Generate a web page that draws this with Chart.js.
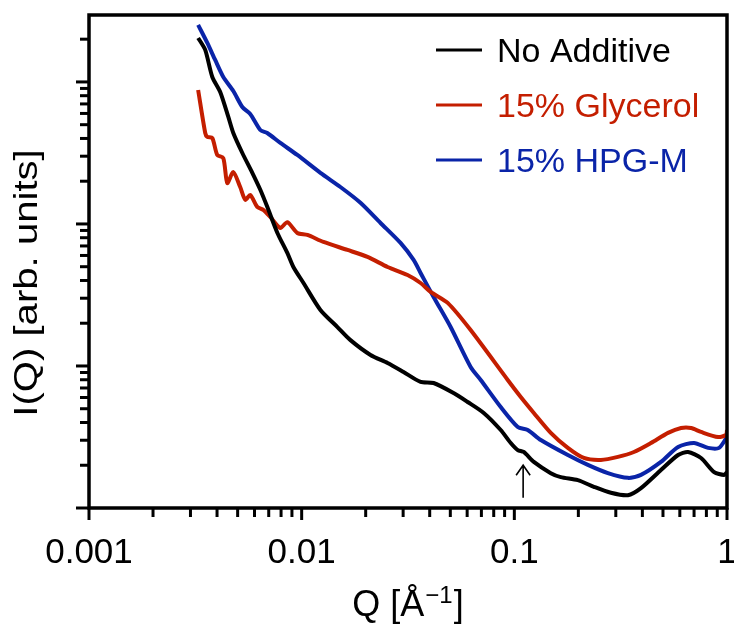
<!DOCTYPE html>
<html>
<head>
<meta charset="utf-8">
<script src="https://cdn.jsdelivr.net/npm/chart.js@4.4.0/dist/chart.umd.min.js"></script>
<style>
html, body { margin: 0; padding: 0; background: #fff; }
</style>
</head>
<body>
<canvas id="grafica" width="734" height="626"></canvas>
<script>
// Datos (Q en 1/Å, I en unidades arbitrarias)
const seriesLabels = ['No Additive', '15% Glycerol', '15% HPG-M'];
const seriesColors = ['#000000', '#c41e00', '#0a24a8'];

const noAddQ = [0.00326, 0.00352, 0.0038, 0.00414, 0.00452, 0.00477, 0.00526, 0.00586, 0.00639, 0.00689,
    0.00769, 0.00856, 0.00914, 0.0102, 0.01225, 0.01473, 0.01696, 0.02107, 0.02534, 0.03013,
    0.03624, 0.04172, 0.0518, 0.0603, 0.0718, 0.0863, 0.0962, 0.1038, 0.1107, 0.1235,
    0.1484, 0.1654, 0.1989, 0.2366, 0.2845, 0.342, 0.394, 0.489, 0.589, 0.656,
    0.755, 0.87, 0.969, 1.0];
const noAddI = [2041, 1680, 1084, 850, 567, 437, 316, 229, 174, 132,
    86.4, 62.5, 49.8, 38.4, 24.8, 18.8, 15.2, 11.96, 10.5, 9.07,
    7.72, 7.59, 6.45, 5.58, 4.67, 3.54, 2.87, 2.56, 2.48, 2.11,
    1.76, 1.65, 1.57, 1.41, 1.28, 1.23, 1.38, 1.85, 2.36, 2.48,
    2.25, 1.79, 1.71, 1.79];

const glyQ = [0.00326, 0.00352, 0.0036, 0.0038, 0.00401, 0.00428, 0.00447, 0.00477, 0.00514, 0.00543,
    0.00573, 0.00618, 0.0066, 0.00712, 0.00794, 0.00856, 0.00954, 0.01064, 0.01266, 0.01642,
    0.0204, 0.02534, 0.03147, 0.03624, 0.0404, 0.0486, 0.0623, 0.0931, 0.1072, 0.1235,
    0.1484, 0.1785, 0.2123, 0.2553, 0.307, 0.365, 0.439, 0.528, 0.608, 0.678,
    0.755, 0.908, 0.99, 1.0];
const glyI = [878, 437, 410, 403, 306, 291, 194, 232, 182, 148,
    160, 132, 125.5, 112, 93.7, 103, 86.4, 83.7, 74.7, 65.6,
    58.6, 49.8, 43.7, 38.4, 33.2, 27.8, 17.9, 7.97, 6.05, 4.67,
    3.38, 2.65, 2.25, 2.18, 2.29, 2.48, 2.87, 3.38, 3.66, 3.66,
    3.43, 3.16, 3.27, 3.54];

const hpgQ = [0.00326, 0.0036, 0.00392, 0.00428, 0.00477, 0.00526, 0.00573, 0.00639, 0.00689, 0.00794,
    0.00954, 0.01225, 0.01521, 0.0189, 0.02349, 0.02917, 0.0336, 0.03624, 0.04172, 0.05017,
    0.0623, 0.0695, 0.0863, 0.1038, 0.1156, 0.1332, 0.1785, 0.2217, 0.2754, 0.342,
    0.394, 0.489, 0.589, 0.7, 0.815, 0.918, 1.0];
const hpgI = [2520, 1882, 1428, 1084, 864, 666, 595, 459, 437, 372,
    306, 229, 182, 141, 101.6, 73.5, 55.8, 45.2, 30.6, 18.8,
    9.84, 7.97, 5.14, 3.72, 3.54, 3.01, 2.36, 2.01, 1.76, 1.63,
    1.71, 2.11, 2.69, 2.87, 2.65, 2.65, 3.16];

// Ejes
const xTickValues = [0.001, 0.01, 0.1, 1];
const xTickLabels = ['0.001', '0.01', '0.1', '1'];
const yMin = 1, yMax = 2960;
const xTitle = 'Q [Å';
const yTitle = 'I(Q) [arb. units]';

// Flecha (Q y rango de I)
const arrowQ = 0.11;
const arrowI = [1.18, 2.0];

function toPoints(qs, is) {
    return qs.map((q, i) => ({ x: q, y: is[i] }));
}

const datasets = [
    { label: seriesLabels[0], data: toPoints(noAddQ, noAddI), borderColor: seriesColors[0] },
    { label: seriesLabels[1], data: toPoints(glyQ, glyI), borderColor: seriesColors[1] },
    { label: seriesLabels[2], data: toPoints(hpgQ, hpgI), borderColor: seriesColors[2] }
];

const FONT = '"Liberation Sans", Arial, Helvetica, sans-serif';

const decor = {
    id: 'decor',
    afterDraw(chart) {
        const ctx = chart.ctx;
        const a = chart.chartArea;
        const xs = chart.scales.x;
        const ys = chart.scales.y;
        ctx.save();
        ctx.strokeStyle = '#000';
        ctx.fillStyle = '#000';
        ctx.lineCap = 'butt';

        // marcas del eje y
        ctx.lineWidth = 3;
        for (let d = 0; d <= 3; d++) {
            for (let m = 1; m <= 9; m++) {
                const v = m * Math.pow(10, d);
                if (v > yMax) continue;
                const py = ys.getPixelForValue(v);
                const len = m === 1 ? 13 : 9;
                ctx.beginPath();
                ctx.moveTo(a.left, py);
                ctx.lineTo(a.left - len, py);
                ctx.stroke();
            }
        }
        // marcas del eje x
        for (let d = -3; d <= 0; d++) {
            for (let m = 1; m <= 9; m++) {
                const v = m * Math.pow(10, d);
                if (v > 1.0001) continue;
                const px = xs.getPixelForValue(v);
                const len = m === 1 ? 12 : 9;
                ctx.beginPath();
                ctx.moveTo(px, a.bottom);
                ctx.lineTo(px, a.bottom + len);
                ctx.stroke();
            }
        }

        // marco
        ctx.lineWidth = 3.5;
        ctx.strokeRect(a.left, a.top, a.right - a.left, a.bottom - a.top);

        // etiquetas eje x
        ctx.font = '35px ' + FONT;
        ctx.textAlign = 'center';
        ctx.textBaseline = 'alphabetic';
        xTickValues.forEach((v, i) => {
            ctx.fillText(xTickLabels[i], xs.getPixelForValue(v), 563);
        });

        // título eje x: Q [Å^-1]
        const big = '36px ' + FONT, small = '24px ' + FONT;
        ctx.font = big;
        const w1 = ctx.measureText(xTitle).width;
        const w3 = ctx.measureText(']').width;
        ctx.font = small;
        const w2 = ctx.measureText('\u22121').width + 2;
        let x0 = (a.left + a.right) / 2 - (w1 + w2 + w3) / 2;
        ctx.textAlign = 'left';
        ctx.font = big;
        ctx.fillText(xTitle, x0, 616);
        ctx.font = small;
        ctx.fillText('\u22121', x0 + w1 + 1, 603);
        ctx.font = big;
        ctx.fillText(']', x0 + w1 + w2, 616);

        // título eje y
        ctx.save();
        ctx.translate(28, 283);
        ctx.rotate(-Math.PI / 2);
        ctx.scale(1.18, 1);
        ctx.font = '34px ' + FONT;
        ctx.textAlign = 'center';
        ctx.textBaseline = 'middle';
        ctx.fillText(yTitle, 0, 0);
        ctx.restore();

        // leyenda
        const rows = [50, 105, 160];
        ctx.font = '34px ' + FONT;
        ctx.textAlign = 'left';
        ctx.lineWidth = 3;
        seriesLabels.forEach((lab, i) => {
            ctx.strokeStyle = seriesColors[i];
            ctx.fillStyle = seriesColors[i];
            ctx.beginPath();
            ctx.moveTo(436, rows[i]);
            ctx.lineTo(482, rows[i]);
            ctx.stroke();
            ctx.fillText(lab, 497, rows[i] + 12);
        });

        // flecha
        const ax = xs.getPixelForValue(arrowQ);
        const y0 = ys.getPixelForValue(arrowI[0]);
        const y1 = ys.getPixelForValue(arrowI[1]);
        ctx.strokeStyle = '#000';
        ctx.lineWidth = 1.6;
        ctx.beginPath();
        ctx.moveTo(ax, y0);
        ctx.lineTo(ax, y1);
        ctx.moveTo(ax - 7, y1 + 10);
        ctx.lineTo(ax, y1);
        ctx.lineTo(ax + 7, y1 + 10);
        ctx.stroke();

        ctx.restore();
    }
};

const ctx = document.getElementById('grafica').getContext('2d');
window.myChart = new Chart(ctx, {
    type: 'line',
    data: { datasets: datasets },
    options: {
        responsive: false,
        animation: false,
        devicePixelRatio: 1,
        layout: { padding: { left: 89, right: 7, top: 15, bottom: 118 } },
        elements: {
            point: { radius: 0 },
            line: { borderWidth: 4, tension: 0.25, fill: false }
        },
        plugins: {
            legend: { display: false },
            tooltip: { enabled: false }
        },
        scales: {
            x: { type: 'logarithmic', min: 0.001, max: 1, display: false },
            y: { type: 'logarithmic', min: yMin, max: yMax, display: false }
        }
    },
    plugins: [decor]
});
</script>
</body>
</html>
